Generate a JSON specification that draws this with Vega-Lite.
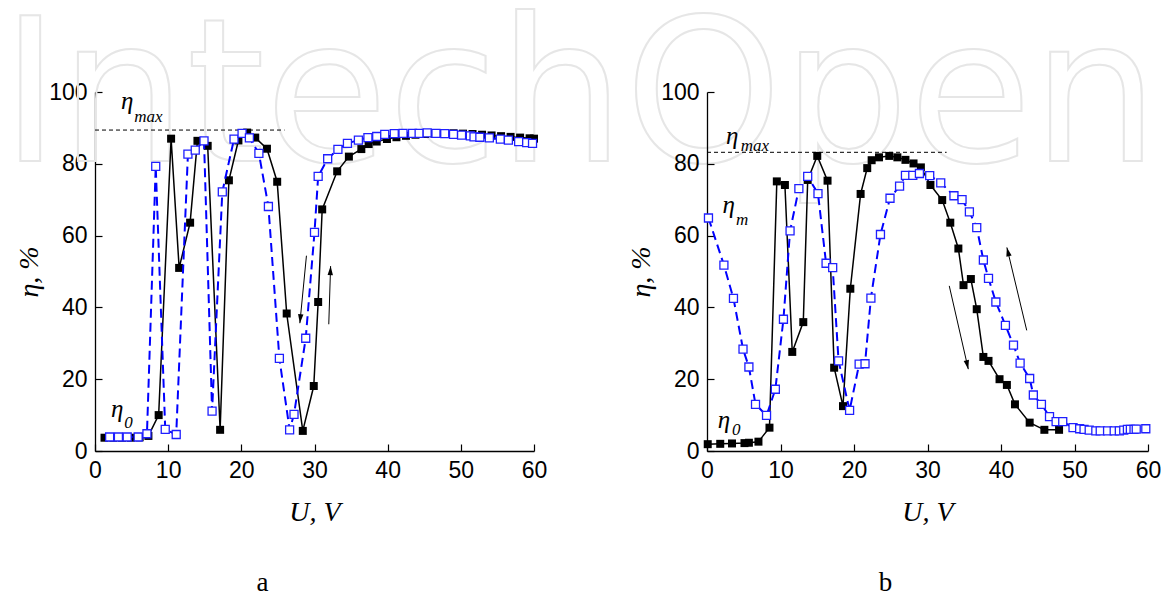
{
  "$schema": "https://vega.github.io/schema/vega-lite/v6.json",
  "background": "white",
  "padding": {"left": 0, "top": 0, "right": 0, "bottom": 0},
  "bounds": "flush",
  "spacing": 173,
  "config": {
    "view": {"stroke": null},
    "axis": {
      "domainColor": "black", "domainWidth": 1.3, "tickColor": "black", "tickWidth": 1.2,
      "labelFont": "Liberation Sans", "labelFontSize": 23, "labelColor": "black",
      "titleFont": "Liberation Serif", "titleFontSize": 28, "titleFontWeight": "normal",
      "titleFontStyle": "italic", "titleColor": "black", "grid": false,
      "labelFlush": false, "labelOverlap": false, "labelPadding": 15
    }
  },
  "datasets": {
    "aBlack": [
      {"U": 1.3, "eta": 3.7}, {"U": 2.5, "eta": 3.7}, {"U": 3.7, "eta": 3.7}, {"U": 4.9, "eta": 3.7},
      {"U": 6.1, "eta": 3.8}, {"U": 7.3, "eta": 4.2}, {"U": 8.7, "eta": 10}, {"U": 10.4, "eta": 87},
      {"U": 11.5, "eta": 51}, {"U": 13.0, "eta": 63.6}, {"U": 14.0, "eta": 86.4}, {"U": 15.4, "eta": 85},
      {"U": 17.1, "eta": 5.9}, {"U": 18.3, "eta": 75.4}, {"U": 19.6, "eta": 86.5}, {"U": 20.8, "eta": 88.7},
      {"U": 21.9, "eta": 87.3}, {"U": 23.5, "eta": 84.2}, {"U": 24.9, "eta": 75}, {"U": 26.2, "eta": 38.3},
      {"U": 28.4, "eta": 5.6}, {"U": 29.9, "eta": 18.1}, {"U": 30.5, "eta": 41.5}, {"U": 31.05, "eta": 67.3},
      {"U": 33.1, "eta": 77.9}, {"U": 34.7, "eta": 82}, {"U": 36.4, "eta": 84.1}, {"U": 37.4, "eta": 85.5},
      {"U": 38.5, "eta": 86.2}, {"U": 39.9, "eta": 86.9}, {"U": 41.2, "eta": 87.4}, {"U": 42.5, "eta": 87.8},
      {"U": 43.8, "eta": 88.1}, {"U": 45.1, "eta": 88.3}, {"U": 46.4, "eta": 88.4}, {"U": 47.7, "eta": 88.5},
      {"U": 49.0, "eta": 88.5}, {"U": 50.3, "eta": 88.4}, {"U": 51.6, "eta": 88.3}, {"U": 52.9, "eta": 88.1},
      {"U": 54.2, "eta": 87.9}, {"U": 55.5, "eta": 87.7}, {"U": 56.8, "eta": 87.5}, {"U": 58.1, "eta": 87.3},
      {"U": 59.4, "eta": 87.1}, {"U": 60, "eta": 87.0}
    ],
    "aBlue": [
      {"U": 2.0, "eta": 3.9}, {"U": 3.2, "eta": 3.9}, {"U": 4.4, "eta": 3.9}, {"U": 5.9, "eta": 3.9},
      {"U": 7.1, "eta": 4.8}, {"U": 8.3, "eta": 79.3}, {"U": 9.6, "eta": 6.0}, {"U": 11.1, "eta": 4.6},
      {"U": 12.7, "eta": 82.7}, {"U": 13.7, "eta": 83.8}, {"U": 14.9, "eta": 86.4}, {"U": 16.0, "eta": 11.1},
      {"U": 17.4, "eta": 72.2}, {"U": 19.0, "eta": 86.9}, {"U": 20.1, "eta": 88.5}, {"U": 21.1, "eta": 87.2},
      {"U": 22.4, "eta": 82.9}, {"U": 23.7, "eta": 68.1}, {"U": 25.2, "eta": 25.8}, {"U": 26.6, "eta": 5.9},
      {"U": 27.2, "eta": 10.2}, {"U": 28.8, "eta": 31.4}, {"U": 30.0, "eta": 60.9}, {"U": 30.5, "eta": 76.5},
      {"U": 31.8, "eta": 81.4}, {"U": 33.2, "eta": 84.0}, {"U": 34.5, "eta": 85.7}, {"U": 36.0, "eta": 86.6},
      {"U": 37.3, "eta": 87.3}, {"U": 38.5, "eta": 87.6}, {"U": 39.6, "eta": 88.2}, {"U": 40.9, "eta": 88.4},
      {"U": 42.1, "eta": 88.5}, {"U": 43.4, "eta": 88.5}, {"U": 44.3, "eta": 88.5}, {"U": 45.4, "eta": 88.6},
      {"U": 46.6, "eta": 88.5}, {"U": 47.8, "eta": 88.4}, {"U": 49.0, "eta": 88.2}, {"U": 50.1, "eta": 88.0},
      {"U": 51.3, "eta": 87.8}, {"U": 51.8, "eta": 87.5}, {"U": 52.6, "eta": 87.4}, {"U": 53.9, "eta": 87.2},
      {"U": 55.4, "eta": 86.9}, {"U": 56.5, "eta": 86.6}, {"U": 57.9, "eta": 86.2}, {"U": 59.0, "eta": 85.9},
      {"U": 59.8, "eta": 85.7}
    ],
    "bBlack": [
      {"U": 0.1, "eta": 1.9}, {"U": 1.8, "eta": 2.0}, {"U": 3.4, "eta": 2.1}, {"U": 5.1, "eta": 2.2},
      {"U": 5.7, "eta": 2.3}, {"U": 7.0, "eta": 2.6}, {"U": 8.5, "eta": 6.5}, {"U": 9.5, "eta": 75.1},
      {"U": 10.6, "eta": 74.1}, {"U": 11.6, "eta": 27.6}, {"U": 13.1, "eta": 35.9}, {"U": 13.7, "eta": 75.5},
      {"U": 15.0, "eta": 82.2}, {"U": 16.4, "eta": 75.3}, {"U": 17.3, "eta": 23.2}, {"U": 18.5, "eta": 12.5},
      {"U": 19.5, "eta": 45.2}, {"U": 20.9, "eta": 71.6}, {"U": 21.8, "eta": 78.8}, {"U": 22.4, "eta": 81},
      {"U": 23.4, "eta": 81.8}, {"U": 24.8, "eta": 82.2}, {"U": 25.9, "eta": 81.8}, {"U": 27.0, "eta": 81.1},
      {"U": 28.1, "eta": 80.1}, {"U": 29.1, "eta": 79.0}, {"U": 30.4, "eta": 74.1}, {"U": 32.0, "eta": 69.9},
      {"U": 33.1, "eta": 63.6}, {"U": 34.2, "eta": 56.4}, {"U": 34.9, "eta": 46.2}, {"U": 35.9, "eta": 47.9},
      {"U": 36.7, "eta": 39.5}, {"U": 37.6, "eta": 26.2}, {"U": 38.3, "eta": 25.1}, {"U": 39.8, "eta": 20.0},
      {"U": 40.8, "eta": 18.4}, {"U": 41.9, "eta": 13.0}, {"U": 43.9, "eta": 7.9}, {"U": 45.9, "eta": 5.9},
      {"U": 47.9, "eta": 5.9}
    ],
    "bBlue": [
      {"U": 0.2, "eta": 64.9}, {"U": 2.3, "eta": 51.8}, {"U": 3.6, "eta": 42.5}, {"U": 4.9, "eta": 28.4},
      {"U": 5.7, "eta": 23.4}, {"U": 6.6, "eta": 13.0}, {"U": 8.1, "eta": 9.9}, {"U": 9.3, "eta": 17.2},
      {"U": 10.4, "eta": 36.7}, {"U": 11.3, "eta": 61.3}, {"U": 12.5, "eta": 73.1}, {"U": 13.7, "eta": 76.5},
      {"U": 15.1, "eta": 71.7}, {"U": 16.2, "eta": 52.3}, {"U": 17.1, "eta": 51.1}, {"U": 17.9, "eta": 25.1},
      {"U": 19.4, "eta": 11.3}, {"U": 20.7, "eta": 24.2}, {"U": 21.5, "eta": 24.3}, {"U": 22.3, "eta": 42.6},
      {"U": 23.6, "eta": 60.3}, {"U": 24.9, "eta": 70.4}, {"U": 26.2, "eta": 73.8}, {"U": 27.0, "eta": 76.8},
      {"U": 28.0, "eta": 76.8}, {"U": 28.9, "eta": 77.3}, {"U": 30.3, "eta": 76.7}, {"U": 31.8, "eta": 74.7},
      {"U": 33.6, "eta": 71.1}, {"U": 34.7, "eta": 70.0}, {"U": 35.7, "eta": 66.6}, {"U": 36.7, "eta": 62.2},
      {"U": 37.6, "eta": 53.2}, {"U": 38.3, "eta": 48.1}, {"U": 39.3, "eta": 41.5}, {"U": 40.6, "eta": 35.0},
      {"U": 41.7, "eta": 29.5}, {"U": 42.6, "eta": 24.5}, {"U": 43.9, "eta": 20.2}, {"U": 44.4, "eta": 15.6},
      {"U": 45.5, "eta": 13.0}, {"U": 46.6, "eta": 9.6}, {"U": 47.5, "eta": 8.2}, {"U": 48.4, "eta": 8.2},
      {"U": 49.8, "eta": 6.5}, {"U": 50.7, "eta": 6.2}, {"U": 51.3, "eta": 6.0}, {"U": 52.0, "eta": 5.8},
      {"U": 52.9, "eta": 5.6}, {"U": 53.5, "eta": 5.6}, {"U": 54.5, "eta": 5.6}, {"U": 55.4, "eta": 5.6},
      {"U": 56.1, "eta": 5.6}, {"U": 56.7, "eta": 5.8}, {"U": 57.2, "eta": 6.0}, {"U": 57.6, "eta": 6.0},
      {"U": 58.1, "eta": 6.0}, {"U": 58.4, "eta": 6.1}, {"U": 59.7, "eta": 6.2}
    ],
    "refs": [
      {"panel": "a", "U": 0, "U2": 25.9, "eta": 89.4},
      {"panel": "b", "U": 0, "U2": 32.6, "eta": 83.2}
    ],
    "arrows": [
      {"panel": "a", "id": "a1", "U": 28.9, "eta": 54.4, "U2": 28.0, "eta2": 35.6},
      {"panel": "a", "id": "a2", "U": 31.95, "eta": 35.3, "U2": 32.2, "eta2": 51.5},
      {"panel": "b", "id": "b1", "U": 32.96, "eta": 46.0, "U2": 35.55, "eta2": 22.8},
      {"panel": "b", "id": "b2", "U": 43.5, "eta": 33.6, "U2": 40.8, "eta2": 56.7}
    ],
    "notes": [
      {"panel": "a", "kind": "eta", "U": 3.55, "eta": 95.2, "t": "η"},
      {"panel": "a", "kind": "sub", "U": 5.37, "eta": 91.7, "t": "max"},
      {"panel": "a", "kind": "eta", "U": 2.19, "eta": 9.55, "t": "η"},
      {"panel": "a", "kind": "sub", "U": 4.0, "eta": 6.5, "t": "0"},
      {"panel": "b", "kind": "eta", "U": 2.6, "eta": 85.6, "t": "η"},
      {"panel": "b", "kind": "sub", "U": 4.6, "eta": 83.6, "t": "max"},
      {"panel": "b", "kind": "eta", "U": 2.1, "eta": 66.4, "t": "η"},
      {"panel": "b", "kind": "sub", "U": 3.95, "eta": 63.0, "t": "m"},
      {"panel": "b", "kind": "eta", "U": 1.45, "eta": 6.5, "t": "η"},
      {"panel": "b", "kind": "sub", "U": 3.4, "eta": 4.5, "t": "0"}
    ],
    "mark": [
      {"U": -12.88, "eta": 80.8, "t": "IntechOpen"}
    ]
  },
  "hconcat": [
    {
      "width": 439,
      "height": 359,
      "title": {"text": "a", "orient": "bottom", "offset": 44, "dx": -52, "font": "Liberation Serif", "fontSize": 27, "fontWeight": "normal", "color": "black"},
      "layer": [
        {
          "data": {"name": "mark"},
          "mark": {"type": "text", "font": "DejaVu Sans", "fontSize": 200, "align": "left", "baseline": "alphabetic", "fill": "transparent", "stroke": "#e6e6e6", "strokeWidth": 2},
          "encoding": {
            "x": {"field": "U", "type": "quantitative", "scale": {"domain": [0, 60], "nice": false, "zero": false},
              "axis": {"values": [0, 5, 10, 15, 20, 25, 30, 35, 40, 45, 50, 55, 60], "labelExpr": "datum.value % 10 === 0 ? datum.label : ''",
                "tickSize": {"condition": {"test": "datum.value % 10 === 0", "value": -7}, "value": -4}, "title": "U, V", "titlePadding": 16}},
            "y": {"field": "eta", "type": "quantitative", "scale": {"domain": [0, 100], "nice": false},
              "axis": {"values": [0, 10, 20, 30, 40, 50, 60, 70, 80, 90, 100], "labelExpr": "datum.value % 20 === 0 ? datum.label : ''",
                "tickSize": {"condition": {"test": "datum.value % 20 === 0", "value": -7}, "value": -4}, "title": "η, %", "titlePadding": 5}},
            "text": {"field": "t"}
          }
        },
        {
          "data": {"name": "refs"},
          "transform": [{"filter": "datum.panel === 'a'"}],
          "mark": {"type": "rule", "color": "black", "strokeWidth": 1, "strokeDash": [4, 3]},
          "encoding": {"x": {"field": "U", "type": "quantitative"}, "x2": {"field": "U2"}, "y": {"field": "eta", "type": "quantitative"}}
        },
        {
          "data": {"name": "aBlack"},
          "mark": {"type": "line", "color": "black", "strokeWidth": 1.5},
          "encoding": {"x": {"field": "U", "type": "quantitative"}, "y": {"field": "eta", "type": "quantitative"}}
        },
        {
          "data": {"name": "aBlack"},
          "mark": {"type": "point", "shape": "square", "filled": true, "color": "black", "size": 64, "opacity": 1},
          "encoding": {"x": {"field": "U", "type": "quantitative"}, "y": {"field": "eta", "type": "quantitative"}}
        },
        {
          "data": {"name": "aBlue"},
          "mark": {"type": "line", "color": "#0000ff", "strokeWidth": 2, "strokeDash": [9, 5]},
          "encoding": {"x": {"field": "U", "type": "quantitative"}, "y": {"field": "eta", "type": "quantitative"}}
        },
        {
          "data": {"name": "aBlue"},
          "mark": {"type": "point", "shape": "square", "filled": true, "fill": "white", "stroke": "#1f1fff", "strokeWidth": 1.3, "size": 64, "opacity": 1},
          "encoding": {"x": {"field": "U", "type": "quantitative"}, "y": {"field": "eta", "type": "quantitative"}}
        },
        {
          "data": {"name": "arrows"},
          "transform": [{"filter": "datum.panel === 'a'"}],
          "mark": {"type": "rule", "color": "black", "strokeWidth": 1},
          "encoding": {"x": {"field": "U", "type": "quantitative"}, "y": {"field": "eta", "type": "quantitative"}, "x2": {"field": "U2"}, "y2": {"field": "eta2"}}
        },
        {
          "data": {"name": "arrows"},
          "transform": [{"filter": "datum.id === 'a1'"}],
          "mark": {"type": "point", "shape": "M0,0L-0.6,-2L0.6,-2Z", "filled": true, "color": "black", "size": 81, "angle": 5.7, "opacity": 1},
          "encoding": {"x": {"field": "U2", "type": "quantitative"}, "y": {"field": "eta2", "type": "quantitative"}}
        },
        {
          "data": {"name": "arrows"},
          "transform": [{"filter": "datum.id === 'a2'"}],
          "mark": {"type": "point", "shape": "M0,0L-0.6,2L0.6,2Z", "filled": true, "color": "black", "size": 81, "angle": 2, "opacity": 1},
          "encoding": {"x": {"field": "U2", "type": "quantitative"}, "y": {"field": "eta2", "type": "quantitative"}}
        },
        {
          "data": {"name": "notes"},
          "transform": [{"filter": "datum.panel === 'a' && datum.kind === 'eta'"}],
          "mark": {"type": "text", "font": "Liberation Serif", "fontStyle": "italic", "fontSize": 25, "align": "left", "baseline": "alphabetic", "color": "black"},
          "encoding": {"x": {"field": "U", "type": "quantitative"}, "y": {"field": "eta", "type": "quantitative"}, "text": {"field": "t"}}
        },
        {
          "data": {"name": "notes"},
          "transform": [{"filter": "datum.panel === 'a' && datum.kind === 'sub'"}],
          "mark": {"type": "text", "font": "Liberation Serif", "fontStyle": "italic", "fontSize": 17, "align": "left", "baseline": "alphabetic", "color": "black"},
          "encoding": {"x": {"field": "U", "type": "quantitative"}, "y": {"field": "eta", "type": "quantitative"}, "text": {"field": "t"}}
        }
      ]
    },
    {
      "width": 441,
      "height": 359,
      "title": {"text": "b", "orient": "bottom", "offset": 44, "dx": -42, "font": "Liberation Serif", "fontSize": 27, "fontWeight": "normal", "color": "black"},
      "layer": [
        {
          "data": {"name": "refs"},
          "transform": [{"filter": "datum.panel === 'b'"}],
          "mark": {"type": "rule", "color": "black", "strokeWidth": 1, "strokeDash": [4, 3]},
          "encoding": {
            "x": {"field": "U", "type": "quantitative", "scale": {"domain": [0, 60], "nice": false, "zero": false},
              "axis": {"values": [0, 5, 10, 15, 20, 25, 30, 35, 40, 45, 50, 55, 60], "labelExpr": "datum.value % 10 === 0 ? datum.label : ''",
                "tickSize": {"condition": {"test": "datum.value % 10 === 0", "value": -7}, "value": -4}, "title": "U, V", "titlePadding": 16}},
            "x2": {"field": "U2"},
            "y": {"field": "eta", "type": "quantitative", "scale": {"domain": [0, 100], "nice": false},
              "axis": {"values": [0, 10, 20, 30, 40, 50, 60, 70, 80, 90, 100], "labelExpr": "datum.value % 20 === 0 ? datum.label : ''",
                "tickSize": {"condition": {"test": "datum.value % 20 === 0", "value": -7}, "value": -4}, "title": "η, %", "titlePadding": 5}}
          }
        },
        {
          "data": {"name": "bBlack"},
          "mark": {"type": "line", "color": "black", "strokeWidth": 1.5},
          "encoding": {"x": {"field": "U", "type": "quantitative"}, "y": {"field": "eta", "type": "quantitative"}}
        },
        {
          "data": {"name": "bBlack"},
          "mark": {"type": "point", "shape": "square", "filled": true, "color": "black", "size": 64, "opacity": 1},
          "encoding": {"x": {"field": "U", "type": "quantitative"}, "y": {"field": "eta", "type": "quantitative"}}
        },
        {
          "data": {"name": "bBlue"},
          "mark": {"type": "line", "color": "#0000ff", "strokeWidth": 2, "strokeDash": [9, 5]},
          "encoding": {"x": {"field": "U", "type": "quantitative"}, "y": {"field": "eta", "type": "quantitative"}}
        },
        {
          "data": {"name": "bBlue"},
          "mark": {"type": "point", "shape": "square", "filled": true, "fill": "white", "stroke": "#1f1fff", "strokeWidth": 1.3, "size": 64, "opacity": 1},
          "encoding": {"x": {"field": "U", "type": "quantitative"}, "y": {"field": "eta", "type": "quantitative"}}
        },
        {
          "data": {"name": "arrows"},
          "transform": [{"filter": "datum.panel === 'b'"}],
          "mark": {"type": "rule", "color": "black", "strokeWidth": 1},
          "encoding": {"x": {"field": "U", "type": "quantitative"}, "y": {"field": "eta", "type": "quantitative"}, "x2": {"field": "U2"}, "y2": {"field": "eta2"}}
        },
        {
          "data": {"name": "arrows"},
          "transform": [{"filter": "datum.id === 'b1'"}],
          "mark": {"type": "point", "shape": "M0,0L-0.6,-2L0.6,-2Z", "filled": true, "color": "black", "size": 81, "angle": -12.8, "opacity": 1},
          "encoding": {"x": {"field": "U2", "type": "quantitative"}, "y": {"field": "eta2", "type": "quantitative"}}
        },
        {
          "data": {"name": "arrows"},
          "transform": [{"filter": "datum.id === 'b2'"}],
          "mark": {"type": "point", "shape": "M0,0L-0.6,2L0.6,2Z", "filled": true, "color": "black", "size": 81, "angle": -13.6, "opacity": 1},
          "encoding": {"x": {"field": "U2", "type": "quantitative"}, "y": {"field": "eta2", "type": "quantitative"}}
        },
        {
          "data": {"name": "notes"},
          "transform": [{"filter": "datum.panel === 'b' && datum.kind === 'eta'"}],
          "mark": {"type": "text", "font": "Liberation Serif", "fontStyle": "italic", "fontSize": 25, "align": "left", "baseline": "alphabetic", "color": "black"},
          "encoding": {"x": {"field": "U", "type": "quantitative"}, "y": {"field": "eta", "type": "quantitative"}, "text": {"field": "t"}}
        },
        {
          "data": {"name": "notes"},
          "transform": [{"filter": "datum.panel === 'b' && datum.kind === 'sub'"}],
          "mark": {"type": "text", "font": "Liberation Serif", "fontStyle": "italic", "fontSize": 17, "align": "left", "baseline": "alphabetic", "color": "black"},
          "encoding": {"x": {"field": "U", "type": "quantitative"}, "y": {"field": "eta", "type": "quantitative"}, "text": {"field": "t"}}
        }
      ]
    }
  ]
}
